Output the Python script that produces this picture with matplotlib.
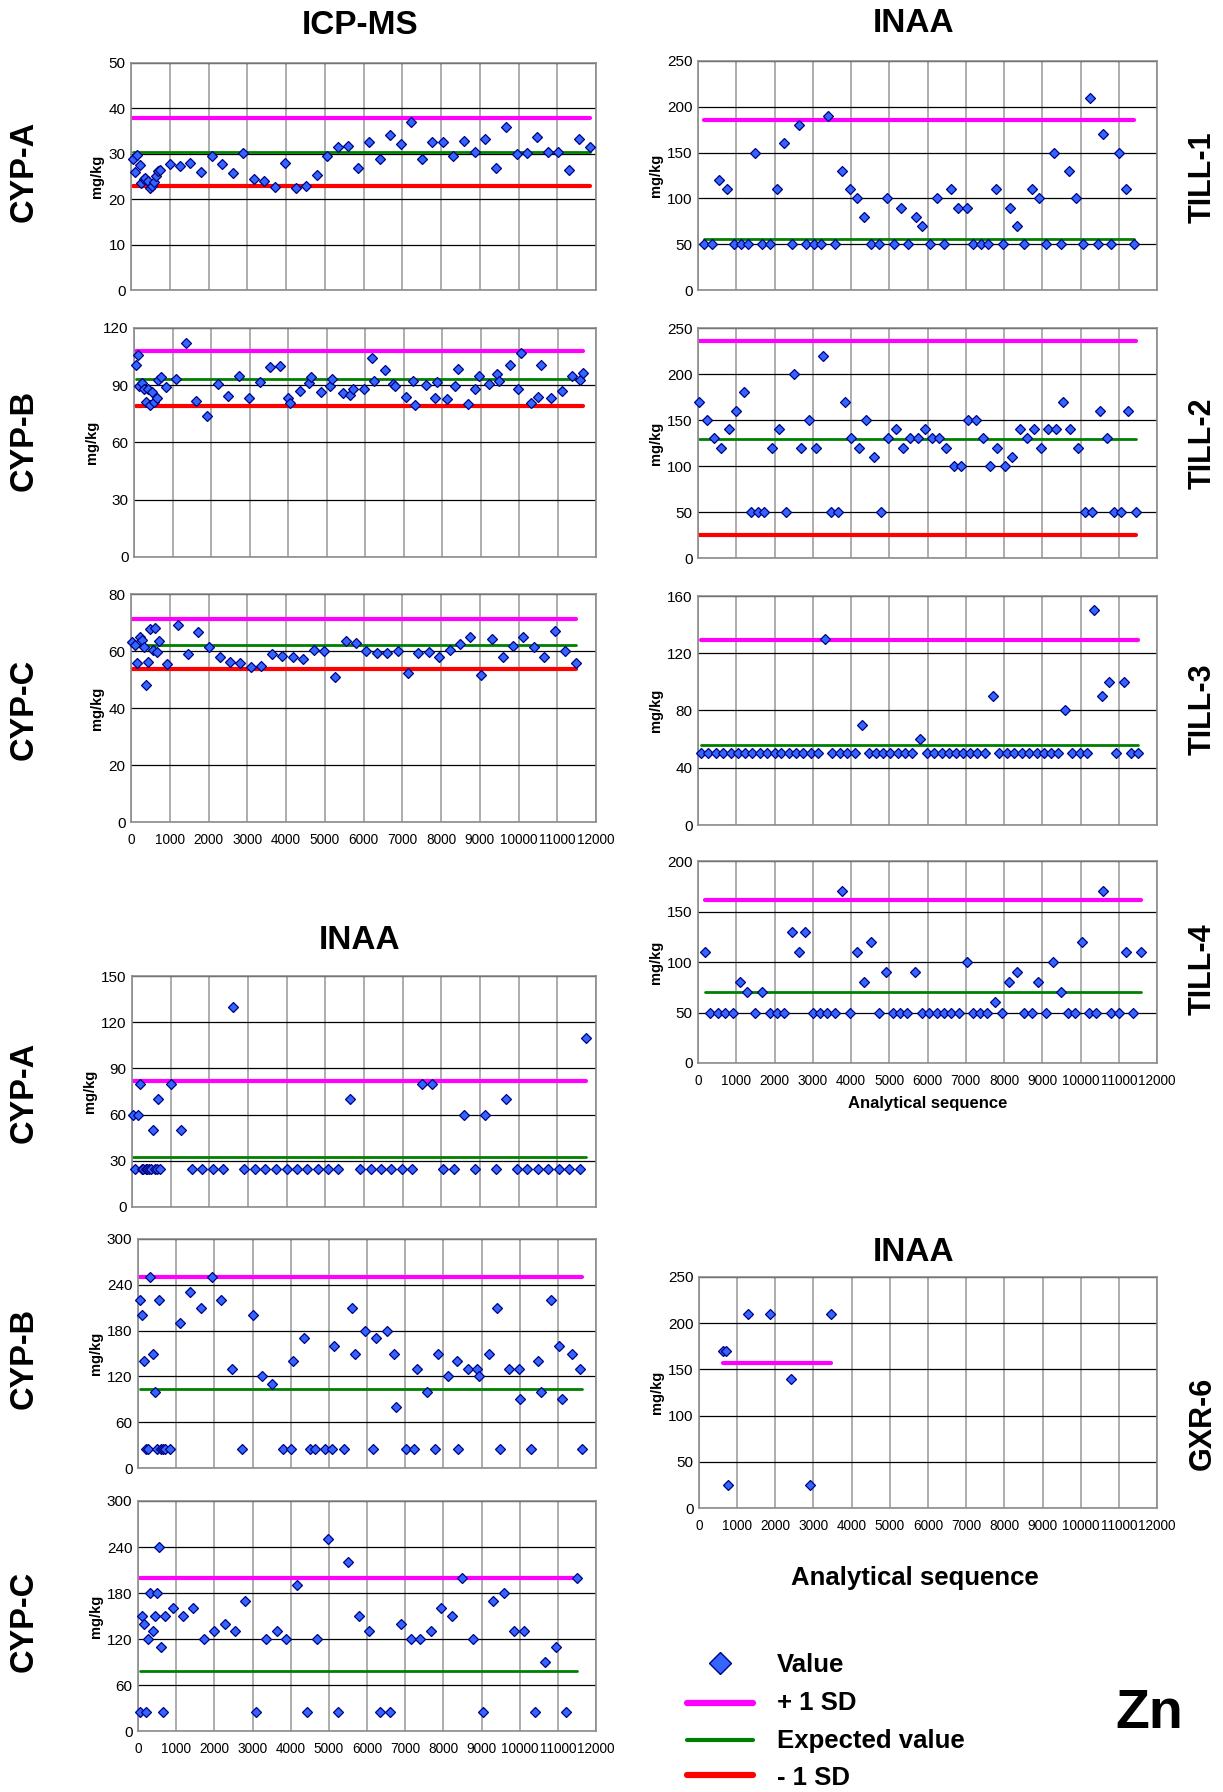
import numpy as np
import matplotlib.pyplot as plt

plt.rcParams['font.family'] = ['Liberation Sans', 'DejaVu Sans']

# ---- data (x = analytical sequence, y = mg/kg) ----
icp_a_x = [50, 110, 160, 220, 270, 330, 370, 430, 480, 530, 600, 650, 700, 760, 1000, 1270,
           1530, 1810, 2100, 2360, 2620, 2900, 3170, 3440, 3710, 3980, 4260, 4520, 4790, 5060,
           5340, 5610, 5870, 6150, 6420, 6690, 6970, 7230, 7510, 7770, 8050, 8320, 8600, 8870,
           9140, 9410, 9670, 9950, 10220, 10490, 10760, 11030, 11300, 11570, 11850]
icp_a_y = [28.8, 26.0, 29.8, 27.6, 23.6, 24.5, 24.7, 23.9, 22.4, 22.9, 23.8, 25.0, 26.2, 26.5,
           27.7, 27.4, 27.9, 26.0, 29.5, 27.7, 25.7, 30.2, 24.4, 23.9, 22.6, 28.0, 22.4, 22.8,
           25.4, 29.5, 31.4, 31.8, 26.8, 32.6, 28.8, 34.1, 32.2, 37.1, 28.8, 32.6, 32.6, 29.5,
           32.9, 30.4, 33.2, 26.9, 36.0, 29.9, 30.2, 33.8, 30.4, 30.4, 26.4, 33.2, 31.6]

icp_b_x = [60, 100, 130, 210, 260, 300, 360, 420, 470, 520, 590, 630, 690, 840, 1080, 1350,
           1620, 1900, 2180, 2440, 2720, 2990, 3270, 3540, 3800, 4010, 4050, 4320, 4550, 4600,
           4870, 5100, 5150, 5420, 5620, 5690, 5970, 6180, 6240, 6510, 6720, 6790, 7060, 7250,
           7310, 7580, 7810, 7860, 8130, 8350, 8410, 8670, 8870, 8950, 9210, 9420, 9490, 9770,
           9970, 10040, 10310, 10500, 10570, 10840, 11110, 11380, 11580, 11660]
icp_b_y = [100.6, 105.7, 89.5, 91.2, 88.2, 81.4, 88.1, 79.9, 86.7, 81.3, 83.5, 93.0, 94.2, 88.9,
           93.3, 112.2, 82.0, 73.9, 90.7, 84.6, 95.1, 83.5, 91.7, 99.4, 99.9, 83.5, 80.7, 86.8,
           91.0, 94.4, 86.3, 89.5, 93.3, 85.8, 84.9, 88.2, 88.2, 104.3, 92.3, 98.2, 90.5, 89.5,
           83.9, 92.3, 79.7, 90.2, 83.5, 91.7, 82.8, 89.5, 98.7, 80.0, 88.1, 95.1, 90.7, 95.8,
           92.3, 100.5, 88.1, 107.1, 80.7, 83.9, 100.5, 83.5, 86.8, 95.1, 92.6, 96.5]

icp_c_x = [30, 100, 160, 220, 280, 330, 380, 440, 490, 560, 630, 670, 710, 930, 1200, 1460,
           1740, 2000, 2290, 2550, 2820, 3100, 3360, 3630, 3900, 4180, 4450, 4720, 4990, 5260,
           5540, 5800, 6070, 6350, 6610, 6880, 7150, 7410, 7680, 7950, 8220, 8490, 8760, 9040,
           9310, 9590, 9850, 10120, 10390, 10660, 10940, 11200, 11480]
icp_c_y = [63.0, 62.2, 55.8, 65.0, 64.0, 61.3, 48.2, 56.3, 67.7, 60.5, 68.1, 59.5, 63.4, 55.4,
           69.0, 58.8, 66.5, 61.4, 58.0, 56.3, 55.7, 54.3, 54.7, 58.8, 58.4, 57.8, 57.3, 60.4,
           59.9, 50.8, 63.6, 62.8, 59.9, 59.2, 59.2, 59.9, 52.3, 59.2, 59.5, 57.8, 60.4, 62.5,
           65.0, 51.7, 64.3, 57.8, 61.8, 64.8, 61.4, 57.8, 67.0, 59.9, 55.8]

inaa_a_x = [20, 150, 210, 540, 670, 1000, 1270, 2620, 5630, 7500, 7770, 8590, 9130, 9670, 11750,
            90, 250, 290, 350, 400, 450, 490, 600, 640, 730, 1540, 1810, 2090, 2360, 2900,
            3170, 3440, 3720, 4000, 4260, 4530, 4810, 5070, 5340, 5900, 6170, 6440, 6710,
            6980, 7230, 8040, 8320, 8870, 9410, 9950, 10220, 10490, 10770, 11040, 11310, 11580]
inaa_a_y = [60, 60, 80, 50, 70, 80, 50, 130, 70, 80, 80, 60, 60, 70, 110,
            25, 25, 25, 25, 25, 25, 25, 25, 25, 25, 25, 25, 25, 25, 25,
            25, 25, 25, 25, 25, 25, 25, 25, 25, 25, 25, 25, 25,
            25, 25, 25, 25, 25, 25, 25, 25, 25, 25, 25, 25, 25]

inaa_b_x = [50, 110, 150, 200, 260, 320, 380, 450, 490, 550, 590, 650, 720, 830, 1090, 1350,
            1650, 1930, 2170, 2450, 2730, 3000, 3260, 3520, 3790, 4010, 4060, 4350, 4510, 4630,
            4890, 5090, 5140, 5410, 5610, 5690, 5960, 6160, 6230, 6520, 6700, 6760, 7030, 7240,
            7310, 7580, 7780, 7860, 8120, 8360, 8390, 8650, 8870, 8930, 9200, 9400, 9490, 9730,
            9970, 10010, 10290, 10480, 10560, 10830, 11040, 11110, 11360, 11580, 11630]
inaa_b_y = [220, 200, 140, 25, 25, 250, 150, 100, 25, 220, 25, 25, 25, 25, 190, 230,
            210, 250, 220, 130, 25, 200, 120, 110, 25, 25, 140, 170, 25, 25,
            25, 25, 160, 25, 210, 150, 180, 25, 170, 180, 150, 80, 25, 25,
            130, 100, 25, 150, 120, 140, 25, 130, 130, 120, 150, 210, 25, 130,
            130, 90, 25, 140, 100, 220, 160, 90, 150, 130, 25]

inaa_c_x = [40, 100, 160, 220, 260, 320, 390, 440, 490, 550, 600, 660, 710, 910, 1180, 1450,
            1730, 2000, 2270, 2540, 2810, 3080, 3360, 3640, 3890, 4160, 4430, 4700, 4980, 5250,
            5500, 5780, 6050, 6330, 6600, 6880, 7140, 7400, 7670, 7950, 8230, 8490, 8770, 9040,
            9310, 9590, 9850, 10110, 10390, 10660, 10940, 11220, 11500]
inaa_c_y = [25, 150, 140, 25, 120, 180, 130, 150, 180, 240, 110, 25, 150, 160, 150, 160,
            120, 130, 140, 130, 170, 25, 120, 130, 120, 190, 25, 120, 250, 25,
            220, 150, 130, 25, 25, 140, 120, 120, 130, 160, 150, 200, 120, 25,
            170, 180, 130, 130, 25, 90, 110, 25, 200]

till1_x = [160, 360, 550, 750, 930, 1120, 1300, 1480, 1680, 1870, 2070, 2260, 2450, 2650, 2820,
           3020, 3210, 3410, 3590, 3770, 3970, 4160, 4350, 4530, 4720, 4930, 5120, 5320, 5500,
           5690, 5860, 6060, 6240, 6430, 6620, 6810, 7020, 7200, 7390, 7590, 7780, 7970, 8160,
           8350, 8530, 8720, 8910, 9110, 9300, 9490, 9690, 9880, 10070, 10260, 10450, 10600,
           10800, 11000, 11190, 11390]
till1_y = [50, 50, 120, 110, 50, 50, 50, 150, 50, 50, 110, 160, 50, 180, 50,
           50, 50, 190, 50, 130, 110, 100, 80, 50, 50, 100, 50, 90, 50,
           80, 70, 50, 100, 50, 110, 90, 90, 50, 50, 50, 110, 50, 90,
           70, 50, 110, 100, 50, 150, 50, 130, 100, 50, 210, 50, 170,
           50, 150, 110, 50]

till2_x = [30, 230, 410, 600, 800, 990, 1190, 1380, 1560, 1730, 1940, 2120, 2310, 2500, 2700,
           2890, 3090, 3280, 3470, 3660, 3850, 4000, 4200, 4400, 4590, 4780, 4980, 5170, 5360,
           5550, 5740, 5940, 6130, 6310, 6490, 6680, 6880, 7070, 7260, 7440, 7640, 7830, 8030,
           8220, 8410, 8610, 8780, 8980, 9160, 9350, 9540, 9730, 9930, 10110, 10310, 10500,
           10700, 10880, 11060, 11250, 11440]
till2_y = [170, 150, 130, 120, 140, 160, 180, 50, 50, 50, 120, 140, 50, 200, 120,
           150, 120, 220, 50, 50, 170, 130, 120, 150, 110, 50, 130, 140, 120,
           130, 130, 140, 130, 130, 120, 100, 100, 150, 150, 130, 100, 120, 100,
           110, 140, 130, 140, 120, 140, 140, 170, 140, 120, 50, 50, 160,
           130, 50, 50, 160, 50]

till3_x = [80, 270, 460, 650, 850, 1040, 1230, 1420, 1610, 1800, 2000, 2180, 2370, 2560, 2750,
           2950, 3140, 3330, 3510, 3700, 3900, 4100, 4290, 4480, 4650, 4840, 5030, 5220, 5410,
           5600, 5800, 5990, 6180, 6370, 6560, 6750, 6930, 7110, 7300, 7500, 7700, 7880, 8080,
           8270, 8460, 8650, 8850, 9040, 9220, 9400, 9590, 9790, 9980, 10170, 10360, 10550,
           10750, 10940, 11130, 11310, 11510]
till3_y = [50, 50, 50, 50, 50, 50, 50, 50, 50, 50, 50, 50, 50, 50, 50,
           50, 50, 130, 50, 50, 50, 50, 70, 50, 50, 50, 50, 50, 50,
           50, 60, 50, 50, 50, 50, 50, 50, 50, 50, 50, 90, 50, 50,
           50, 50, 50, 50, 50, 50, 50, 80, 50, 50, 50, 150, 90,
           100, 50, 100, 50, 50]

till4_x = [170, 320, 510, 710, 910, 1100, 1290, 1480, 1670, 1870, 2060, 2250, 2450, 2640, 2810,
           3000, 3190, 3380, 3580, 3770, 3970, 4160, 4350, 4530, 4720, 4920, 5090, 5280, 5470,
           5670, 5860, 6050, 6240, 6430, 6620, 6820, 7020, 7190, 7370, 7560, 7760, 7950, 8130,
           8330, 8510, 8720, 8900, 9100, 9290, 9490, 9670, 9850, 10030, 10220, 10410, 10600,
           10800, 11000, 11190, 11380, 11570]
till4_y = [110, 50, 50, 50, 50, 80, 70, 50, 70, 50, 50, 50, 130, 110, 130,
           50, 50, 50, 50, 170, 50, 110, 80, 120, 50, 90, 50, 50, 50,
           90, 50, 50, 50, 50, 50, 50, 100, 50, 50, 50, 60, 50, 80,
           90, 50, 50, 80, 50, 100, 70, 50, 50, 120, 50, 50, 170,
           50, 50, 110, 50, 110]

gxr_x = [630, 720, 770, 1290, 1850, 2400, 2920, 3470]
gxr_y = [170, 170, 25, 210, 210, 140, 25, 210]

# reference lines: (+1 SD, expected, -1 SD); None where not drawn
icp_a_ref = (37.9, 30.4, 23.0)
icp_b_ref = (108.2, 93.3, 79.2)
icp_c_ref = (71.2, 62.1, 53.8)
inaa_a_ref = (81.6, 32.7, None)
inaa_b_ref = (249.7, 103.4, None)
inaa_c_ref = (199.0, 78.5, None)
till1_ref = (186.0, 56.0, None)
till2_ref = (235.5, 129.7, 25.0)
till3_ref = (129.2, 55.7, None)
till4_ref = (161.8, 70.0, None)
gxr_ref = (157.0, None, None)

W, H = 1223, 1792
fig = plt.figure(figsize=(W / 100, H / 100), dpi=100)


def box(l, t, r, b):
    return [l / W, 1 - b / H, (r - l) / W, (b - t) / H]


def panel(rect, xs, ys, ref, ymax, ystep, xlabels=False):
    ax = fig.add_axes(box(*rect))
    ax.set_xlim(0, 12000)
    ax.set_ylim(0, ymax)
    ax.set_xticks(np.arange(0, 12001, 1000))
    ax.set_yticks(np.arange(0, ymax + 1, ystep))
    ax.grid(axis='x', color='#a0a0a0', lw=1.2)
    ax.grid(axis='y', color='black', lw=0.9)
    ax.set_axisbelow(True)
    for s in ax.spines.values():
        s.set_color('#8c8c8c')
        s.set_linewidth(1.2)
    ax.tick_params(length=0, labelsize=11, pad=4)
    ax.tick_params(axis='x', labelsize=9.8, pad=8)
    if not xlabels:
        ax.set_xticklabels([])
    x0, x1 = min(xs), max(xs)
    styles = [('#ff00ff', 3.0), ('#008000', 2.0), ('#ff0000', 3.0)]
    for v, (c, w) in zip(ref, styles):
        if v is not None:
            ax.plot([x0, x1], [v, v], color=c, lw=w, solid_capstyle='round', zorder=2)
    ax.plot(xs, ys, 'D', ms=5.3, mfc='#3366ff', mec='#000080', mew=0.9, zorder=3, clip_on=False)
    ax.set_ylabel('mg/kg', fontsize=10.5, fontweight='bold', labelpad=3)
    return ax


L1, R1 = 131, 596
L2, R2 = 698, 1157
panel((L1, 63, R1, 290), icp_a_x, icp_a_y, icp_a_ref, 50, 10)
panel((134, 328, R1, 557), icp_b_x, icp_b_y, icp_b_ref, 120, 30)
panel((L1, 594, R1, 822), icp_c_x, icp_c_y, icp_c_ref, 80, 20, xlabels=True)
panel((132, 976, R1, 1207), inaa_a_x, inaa_a_y, inaa_a_ref, 150, 30)
panel((138, 1239, R1, 1468), inaa_b_x, inaa_b_y, inaa_b_ref, 300, 60)
panel((138, 1501, R1, 1731), inaa_c_x, inaa_c_y, inaa_c_ref, 300, 60, xlabels=True)
panel((L2, 61, R2, 290), till1_x, till1_y, till1_ref, 250, 50)
panel((L2, 328, R2, 558), till2_x, till2_y, till2_ref, 250, 50)
panel((L2, 596, R2, 825), till3_x, till3_y, till3_ref, 160, 40)
ax4 = panel((L2, 861, R2, 1063), till4_x, till4_y, till4_ref, 200, 50, xlabels=True)
ax4.set_xlabel('Analytical sequence', fontsize=12, fontweight='bold', labelpad=6)
panel((699, 1277, R2, 1508), gxr_x, gxr_y, gxr_ref, 250, 50, xlabels=True)

# titles
def ftext(x, y, s, **kw):
    fig.text(x / W, 1 - y / H, s, ha='center', va='center', fontweight='bold', **kw)

ftext(360, 25, 'ICP-MS', fontsize=24)
ftext(914, 23, 'INAA', fontsize=24)
ftext(360, 940, 'INAA', fontsize=24)
ftext(914, 1252, 'INAA', fontsize=24)
ftext(915, 1578, 'Analytical sequence', fontsize=18.5)

for y, s in [(171, 'CYP-A'), (440, 'CYP-B'), (709, 'CYP-C'),
             (1092, 'CYP-A'), (1358, 'CYP-B'), (1621, 'CYP-C')]:
    ftext(24, y, s, fontsize=23.5, rotation=90)
for y, s in [(177, 'TILL-1'), (443, 'TILL-2'), (709, 'TILL-3'), (969, 'TILL-4'), (1423, 'GXR-6')]:
    ftext(1203, y, s, fontsize=22, rotation=90)

# legend drawn by hand in figure coordinates
lx0, lx1 = 687 / W, 753 / W
fig.add_artist(plt.Line2D([720 / W], [1 - 1663 / H], marker='D', ms=11, mfc='#3366ff',
                          mec='#000080', mew=1.0, ls='none'))
for y, c, w in [(1703, '#ff00ff', 4.5), (1740, '#008000', 3.0), (1775, '#ff0000', 4.5)]:
    fig.add_artist(plt.Line2D([lx0, lx1], [1 - y / H] * 2, color=c, lw=w, solid_capstyle='round'))
for y, s in [(1665, 'Value'), (1703, '+ 1 SD'), (1741, 'Expected value'), (1778, '- 1 SD')]:
    fig.text(777 / W, 1 - y / H, s, ha='left', va='center', fontsize=18.5, fontweight='bold')
ftext(1149, 1714, 'Zn', fontsize=40)

fig.savefig('out.png', dpi=100)
